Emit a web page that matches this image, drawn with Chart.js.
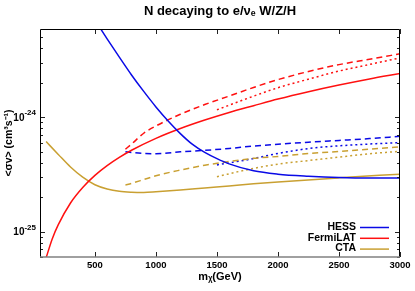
<!DOCTYPE html>
<html>
<head>
<meta charset="utf-8">
<script src="https://cdn.jsdelivr.net/npm/chart.js@4"></script>
<style>
  html, body { margin:0; padding:0; background:#fff; }
  #wrap { width:415px; height:291px; }
</style>
</head>
<body>
<div id="wrap"><canvas id="c"></canvas></div>
<script>
/* ── data ─────────────────────────────────────────── */
const X_TICKS = [500, 1000, 1500, 2000, 2500, 3000];
const Y_TICKS = [1e-25, 1e-24];
const NAMES   = ['HESS', 'FermiLAT', 'CTA'];
const COLORS  = ['#0a0ae6', '#ff1010', '#c9a032'];

// solid curves
const M_HESS  = [500,600,700,800,900,1000,1100,1200,1300,1400,1500,1600,1800,2000,2250,2500,2750,3000];
const HESS    = [7.08e-24,4.84e-24,3.35e-24,2.34e-24,1.68e-24,1.23e-24,9.27e-25,7.19e-25,5.78e-25,4.92e-25,4.34e-25,3.91e-25,3.40e-25,3.18e-25,3.05e-25,2.97e-25,2.94e-25,2.94e-25];
const M_FERMI = [100,150,200,300,400,500,600,700,800,1000,1200,1400,1600,1800,2000,2250,2500,2750,3000];
const FERMI   = [5.9e-26,8.63e-26,1.15e-25,1.78e-25,2.43e-25,3.1e-25,3.77e-25,4.45e-25,5.14e-25,6.53e-25,7.96e-25,9.44e-25,1.10e-24,1.26e-24,1.44e-24,1.67e-24,1.91e-24,2.16e-24,2.41e-24];
const M_CTA   = [100,200,300,400,500,600,700,800,900,1000,1200,1400,1600,1800,2000,2500,3000];
const CTA     = [6.12e-25,4.73e-25,3.67e-25,2.99e-25,2.57e-25,2.36e-25,2.25e-25,2.21e-25,2.20e-25,2.23e-25,2.31e-25,2.41e-25,2.51e-25,2.62e-25,2.72e-25,2.95e-25,3.18e-25];

// dashed curves
const M_DASH     = [750,800,900,1000,1200,1400,1600,1800,2000,2250,2500,2750,3000];
const HESS_DASH  = [5.0e-25,4.92e-25,4.82e-25,4.8e-25,4.98e-25,5.13e-25,5.33e-25,5.6e-25,5.8e-25,6.05e-25,6.27e-25,6.5e-25,6.8e-25];
const FERMI_DASH = [5.25e-25,5.82e-25,7.24e-25,8.38e-25,1.06e-24,1.29e-24,1.53e-24,1.82e-24,2.13e-24,2.51e-24,2.88e-24,3.21e-24,3.58e-24];
const CTA_DASH   = [2.55e-25,2.64e-25,2.85e-25,3.08e-25,3.45e-25,3.8e-25,4.1e-25,4.37e-25,4.54e-25,4.81e-25,5.02e-25,5.25e-25,5.5e-25];

// dotted curves
const M_DOT     = [1500,1750,2000,2250,2500,2750,3000];
const HESS_DOT  = [3.83e-25,4.25e-25,4.82e-25,5.32e-25,5.62e-25,5.83e-25,6.0e-25];
const FERMI_DOT = [1.16e-24,1.46e-24,1.81e-24,2.15e-24,2.53e-24,2.89e-24,3.3e-24];
const CTA_DOT   = [3.02e-25,3.48e-25,3.89e-25,4.18e-25,4.48e-25,4.79e-25,5.03e-25];

/* ── helpers ──────────────────────────────────────── */
const FONT = '"Liberation Sans", Arial, sans-serif';
const pts = (xs, ys) => xs.map((x, i) => ({x, y: ys[i]}));

function line(label, xs, ys, color, dash){
  return {
    label, data: pts(xs, ys),
    borderColor: color, backgroundColor: color,
    borderWidth: 1.5, borderDash: dash || [],
    pointRadius: 0, fill: false,
    cubicInterpolationMode: 'monotone',
  };
}

/* ── plugins: gnuplot-ish frame, y labels, inner key ── */
const frame = {
  id: 'frame',
  afterDatasetsDraw(chart){
    const {ctx, chartArea: a, scales: {x, y}} = chart;
    ctx.save();
    ctx.strokeStyle = '#222'; ctx.lineWidth = 1;
    ctx.beginPath();
    X_TICKS.forEach(v => {
      const px = Math.round(x.getPixelForValue(v)) + .5;
      ctx.moveTo(px, a.bottom); ctx.lineTo(px, a.bottom - 5);
      ctx.moveTo(px, a.top);    ctx.lineTo(px, a.top + 5);
    });
    for (let d = -26; d <= -24; d++){
      for (let k = 1; k <= 9; k++){
        const v = k * Math.pow(10, d);
        if (v < y.min || v > y.max) continue;
        const py = Math.round(y.getPixelForValue(v)) + .5;
        const len = k === 1 ? 5 : 3;
        ctx.moveTo(a.left, py);  ctx.lineTo(a.left + len, py);
        ctx.moveTo(a.right, py); ctx.lineTo(a.right - len, py);
      }
    }
    ctx.stroke();
    ctx.strokeStyle = '#000';
    ctx.beginPath();
    ctx.moveTo(a.left + .5, a.bottom); ctx.lineTo(a.left + .5, a.top + .5);
    ctx.lineTo(a.right - .5, a.top + .5); ctx.lineTo(a.right - .5, a.bottom);
    ctx.stroke();
    ctx.strokeStyle = '#808080'; ctx.lineWidth = 1.5;
    ctx.beginPath();
    ctx.moveTo(a.left, a.bottom); ctx.lineTo(a.right, a.bottom);
    ctx.stroke();

    // y tick labels 10^n with a real superscript
    ctx.fillStyle = '#000'; ctx.textAlign = 'right'; ctx.textBaseline = 'middle';
    Y_TICKS.forEach(v => {
      const py = y.getPixelForValue(v);
      const exp = String(Math.round(Math.log10(v)));
      ctx.font = 'bold 8px ' + FONT;
      const w = ctx.measureText(exp).width;
      ctx.fillText(exp, a.left - 4, py - 4);
      ctx.font = 'bold 10px ' + FONT;
      ctx.fillText('10', a.left - 4 - w, py + 1);
    });
    ctx.restore();
  }
};

const keyBox = {
  id: 'keyBox',
  afterDraw(chart){
    const {ctx, chartArea: a} = chart;
    ctx.save();
    ctx.font = 'bold 10.5px ' + FONT;
    ctx.textAlign = 'right'; ctx.textBaseline = 'middle';
    ctx.fillStyle = '#000';
    NAMES.forEach((n, i) => {
      const yy = a.bottom - 30 + i * 10.8;
      ctx.fillText(n, a.right - 44, yy);
      ctx.strokeStyle = COLORS[i]; ctx.lineWidth = 1.5;
      ctx.beginPath();
      ctx.moveTo(a.right - 40, yy + .5); ctx.lineTo(a.right - 11, yy + .5);
      ctx.stroke();
    });
    ctx.restore();
  }
};

/* ── chart ────────────────────────────────────────── */
new Chart(document.getElementById('c'), {
  type: 'line',
  data: {
    datasets: [
      line('HESS',     M_HESS,  HESS,  COLORS[0]),
      line('FermiLAT', M_FERMI, FERMI, COLORS[1]),
      line('CTA',      M_CTA,   CTA,   COLORS[2]),
      line('HESS dashed',     M_DASH, HESS_DASH,  COLORS[0], [6, 4]),
      line('FermiLAT dashed', M_DASH, FERMI_DASH, COLORS[1], [6, 4]),
      line('CTA dashed',      M_DASH, CTA_DASH,   COLORS[2], [6, 4]),
      line('HESS dotted',     M_DOT,  HESS_DOT,   COLORS[0], [2, 3]),
      line('FermiLAT dotted', M_DOT,  FERMI_DOT,  COLORS[1], [2, 3]),
      line('CTA dotted',      M_DOT,  CTA_DOT,    COLORS[2], [2, 3]),
    ]
  },
  options: {
    responsive: true, maintainAspectRatio: false,
    animation: false,
    layout: { padding: { left: 0, right: 15, top: 0, bottom: 0 } },
    plugins: {
      legend: { display: false },
      tooltip: { enabled: false },
      title: {
        display: true, fullSize: false,
        text: 'N decaying to e/νₑ W/Z/H',
        color: '#000',
        font: { family: FONT, size: 13, weight: 'bold' },
        padding: { top: 4, bottom: 9.4 }
      }
    },
    scales: {
      x: {
        type: 'linear', min: 50, max: 3000,
        afterBuildTicks: s => { s.ticks = X_TICKS.map(v => ({value: v})); },
        afterFit: s => { s.height = 34; },
        grid: { display: false, drawTicks: false },
        border: { display: false },
        ticks: { color: '#000', padding: 3, maxRotation: 0, callback: v => String(v),
                 font: { family: FONT, size: 9.5, weight: 'bold' } },
        title: { display: true, text: 'mᵪ(GeV)', color: '#000',
                 font: { family: FONT, size: 11, weight: 'bold' },
                 padding: { top: 0, bottom: 7 } }
      },
      y: {
        type: 'logarithmic', min: 6.0e-26, max: 5.9e-24,
        afterBuildTicks: s => { s.ticks = Y_TICKS.map(v => ({value: v})); },
        afterFit: s => { s.width = 40; },
        grid: { display: false, drawTicks: false },
        border: { display: false },
        ticks: { display: false },
        title: { display: true, text: '<σv> (cm³s⁻¹)', color: '#000',
                 font: { family: FONT, size: 10.5, weight: 'bold' },
                 padding: { top: 3, bottom: 0 } }
      }
    }
  },
  plugins: [frame, keyBox]
});
</script>
</body>
</html>
